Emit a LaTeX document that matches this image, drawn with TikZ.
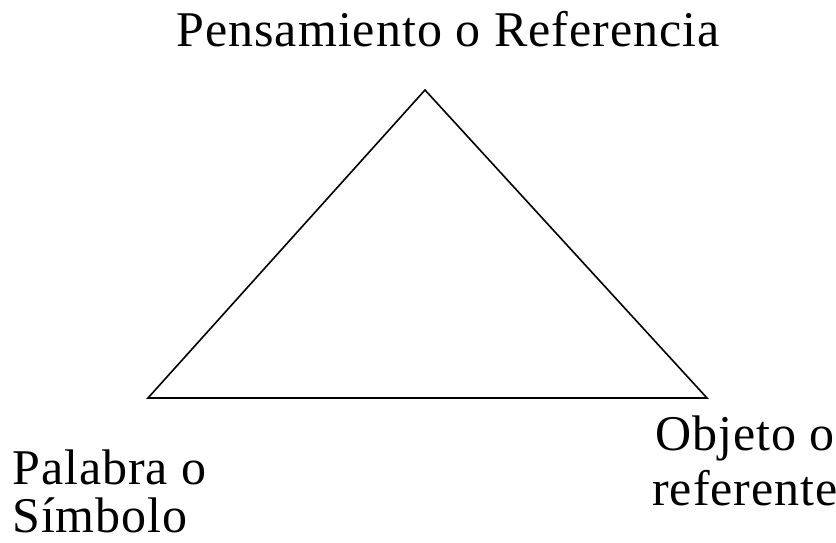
\documentclass[tikz,border=0pt]{standalone}
\usepackage{fontspec}
\setmainfont{Liberation Serif}[LetterSpace=2]
\begin{document}
\begin{tikzpicture}[x=1pt,y=-1pt,
  lbl/.style={inner sep=0pt,font=\fontsize{50}{60}\selectfont},
  edge/.style={line width=1.6pt,line join=miter}]
\useasboundingbox[fill=white] (0,0) rectangle (836,543);
\coordinate (top) at (425,90);
\coordinate (left) at (148,398);
\coordinate (right) at (707,398);
\draw[edge] (top) -- (right) -- (left) -- cycle;
\node[lbl,anchor=base] (pens) at (448,47) {Pensamiento o Referencia};
\node[lbl,anchor=base west] (pal) at (12,484) {Palabra o};
\node[lbl,anchor=base west] (sim) at (12,532) {Símbolo};
\node[lbl,anchor=base west] (obj) at (655,450) {Objeto o};
\node[lbl,anchor=base west] (ref) at (652,505) {referente};
\end{tikzpicture}
\end{document}
